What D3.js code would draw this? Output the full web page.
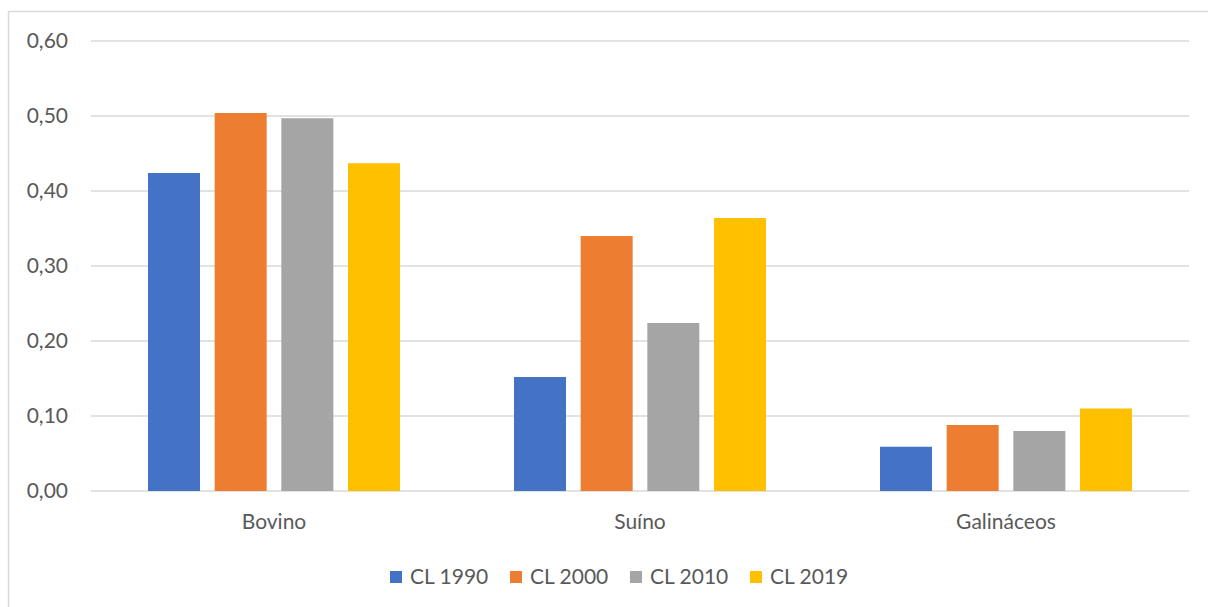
<!DOCTYPE html>
<html lang="pt">
  <head>
    <meta charset="utf-8">
    <title>Chart</title>
    <style>
      html, body { margin: 0; padding: 0; background: #fff; }
      svg text { font-family: Lato, "Open Sans", sans-serif; fill: #595959; }
    </style>
  </head>
  <body>
    <svg class="chart"></svg>
    <script src="https://d3js.org/d3.v7.min.js"></script>
    <script>

    const categories = ["Bovino", "Suíno", "Galináceos"];
    const seriesNames = ["CL 1990", "CL 2000", "CL 2010", "CL 2019"];
    const cl1990 = [0.424, 0.152, 0.059];
    const cl2000 = [0.504, 0.340, 0.088];
    const cl2010 = [0.497, 0.224, 0.080];
    const cl2019 = [0.437, 0.364, 0.110];
    const yTicks = [0, 0.1, 0.2, 0.3, 0.4, 0.5, 0.6];
    const colors = ["#4472c4", "#ed7d31", "#a5a5a5", "#ffc000"];

    const allSeries = [cl1990, cl2000, cl2010, cl2019];
    const width = 1208, height = 607;
    const margins = { left: 91, right: 19, top: 41, bottom: 116 };

    const svg = d3.select(".chart").attr("width", width).attr("height", height);

    // chart frame (right and bottom edges fall outside the window)
    svg.append("rect")
      .attr("x", 8.5).attr("y", 11.5)
      .attr("width", 1230).attr("height", 640)
      .attr("fill", "none").attr("stroke", "#d9d9d9").attr("stroke-width", 1.5);

    const yScale = d3.scaleLinear().domain([0, 0.6])
      .range([height - margins.bottom, margins.top]);
    const x0 = d3.scaleBand().domain(categories)
      .range([margins.left, width - margins.right]);
    const x1 = d3.scaleBand().domain(seriesNames)
      .range([57, x0.bandwidth() - 57]).paddingInner(0.22);

    // gridlines
    svg.append("g").selectAll("line").data(yTicks).enter().append("line")
      .attr("x1", margins.left).attr("x2", width - margins.right)
      .attr("y1", d => yScale(d)).attr("y2", d => yScale(d))
      .attr("stroke", "#d9d9d9").attr("stroke-width", 1.5);

    // y axis labels
    const yAxis = d3.axisLeft(yScale).tickValues(yTicks)
      .tickFormat(d => d3.format(".2f")(d).replace(".", ","))
      .tickSize(0).tickPadding(23);
    const yg = svg.append("g")
      .attr("transform", "translate(" + margins.left + ",0)")
      .call(yAxis);
    yg.select(".domain").remove();
    yg.selectAll("text").style("font-size", "21px").attr("fill", "#595959");

    // bars
    const groups = svg.append("g").selectAll("g").data(categories).enter().append("g")
      .attr("transform", d => "translate(" + x0(d) + ",0)");
    groups.selectAll("rect")
      .data((c, ci) => seriesNames.map((s, si) => ({ s: s, v: allSeries[si][ci], i: si })))
      .enter().append("rect")
      .attr("x", d => x1(d.s))
      .attr("width", x1.bandwidth())
      .attr("y", d => yScale(d.v))
      .attr("height", d => yScale(0) - yScale(d.v))
      .attr("fill", d => colors[d.i]);

    // category labels
    const xAxis = d3.axisBottom(x0).tickSize(0).tickPadding(23);
    const xg = svg.append("g")
      .attr("transform", "translate(0," + yScale(0) + ")")
      .call(xAxis);
    xg.select(".domain").remove();
    xg.selectAll("text").style("font-size", "21px").attr("fill", "#595959");

    // legend
    const legend = svg.append("g").attr("transform", "translate(390,0)");
    const items = legend.selectAll("g").data(seriesNames).enter().append("g")
      .attr("transform", (d, i) => "translate(" + (i * 120) + ",0)");
    items.append("rect")
      .attr("x", 0).attr("y", 571).attr("width", 12).attr("height", 12)
      .attr("fill", (d, i) => colors[i]);
    items.append("text")
      .attr("x", 20).attr("y", 584)
      .style("font-size", "21px")
      .text(d => d);
    </script>
  </body>
</html>
